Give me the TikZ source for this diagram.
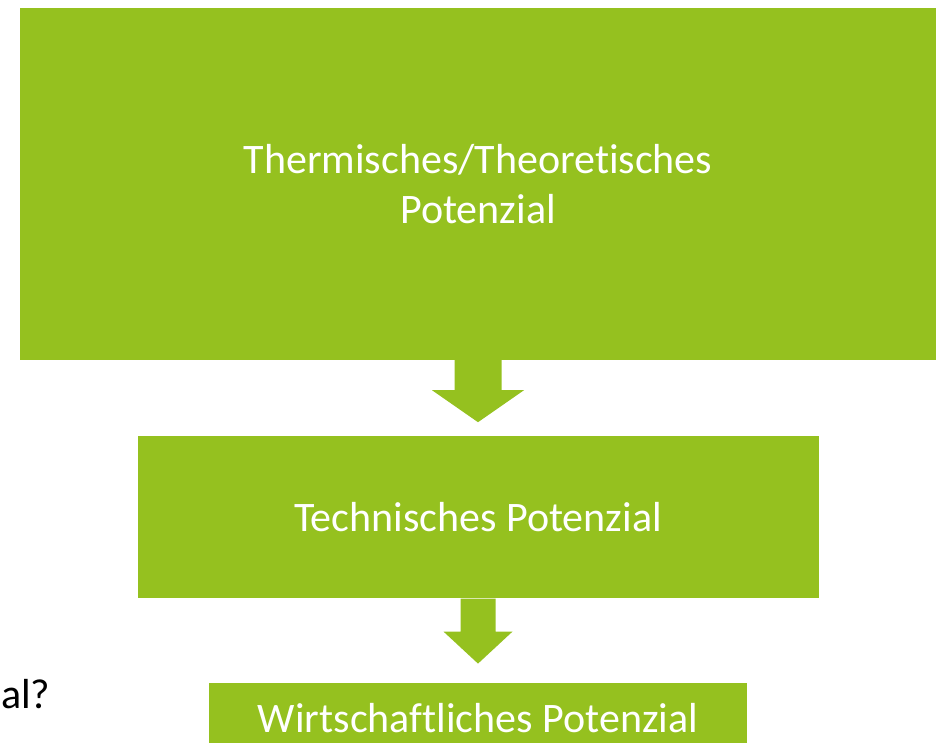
\documentclass[tikz,border=0pt]{standalone}
\usepackage{fontspec}
\setmainfont[Ligatures=CommonOff]{Carlito}
\usetikzlibrary{positioning}
\definecolor{leafgreen}{RGB}{149,193,31}

\begin{document}
\begin{tikzpicture}[x=1pt, y=1pt,
    stage/.style={rectangle, fill=leafgreen, inner sep=0pt, align=center, text=white, font=\fontsize{42}{50}\selectfont},
    blockarrow/.style={fill=leafgreen}
]
\useasboundingbox (0,0) rectangle (937,-743);

\node[stage, minimum width=916pt, minimum height=352pt] (thermal) at (478,-184) {Thermisches/Theoretisches\\Potenzial};
\node[stage, minimum width=681pt, minimum height=162pt, below=76pt of thermal] (technical) {Technisches Potenzial};
\node[stage, minimum width=538pt, minimum height=70pt, below=84pt of technical] (economic) {Wirtschaftliches Potenzial};

% block arrows between the stages
\fill[blockarrow] (thermal.south) ++(-23.5,0) -- ++(0,-30) -- ++(-22.5,0) -- ++(46,-32) -- ++(46,32) -- ++(-22.5,0) -- ++(0,30) -- cycle;
\fill[blockarrow] (technical.south) ++(-17.5,0) -- ++(0,-33) -- ++(-17,0) -- ++(34.5,-32) -- ++(34.5,32) -- ++(-17,0) -- ++(0,33) -- cycle;

\node[anchor=base west, inner sep=0pt, font=\fontsize{42}{50}\selectfont] (question) at (1,-708) {al?};

\end{tikzpicture}
\end{document}
